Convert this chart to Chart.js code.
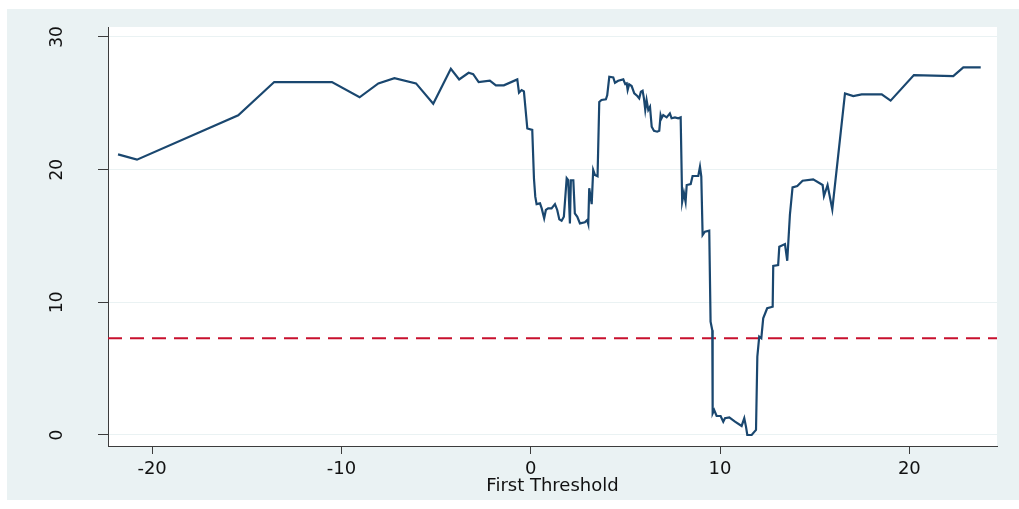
<!DOCTYPE html>
<html>
<head>
<meta charset="utf-8">
<script src="https://cdn.jsdelivr.net/npm/chart.js@4/dist/chart.umd.min.js"></script>
<style>
  html, body { margin: 0; padding: 0; background: #fff; }
  #wrap { width: 1019px; height: 509px; }
</style>
</head>
<body>
<div id="wrap"><canvas id="chart" width="1019" height="509"></canvas></div>
<script>
// estimate vs first threshold
const thresholdX = [
  -21.8, -20.8, -15.45, -13.55, -10.5, -9.04, -8.05, -7.2, -6.06, -5.15,
  -4.22, -3.78, -3.28, -3.04, -2.75, -2.16, -1.84, -1.42, -0.71, -0.62,
  -0.48, -0.36, -0.18, 0.08, 0.17, 0.24, 0.31, 0.49, 0.58, 0.71,
  0.8, 0.92, 1.1, 1.28, 1.4, 1.51, 1.63, 1.75, 1.9, 1.98,
  2.07, 2.12, 2.25, 2.33, 2.46, 2.6, 2.86, 2.98, 3.04, 3.09,
  3.22, 3.3, 3.39, 3.53, 3.62, 3.74, 3.97, 4.04, 4.15, 4.36,
  4.45, 4.62, 4.89, 4.99, 5.07, 5.12, 5.2, 5.33, 5.47, 5.63,
  5.73, 5.82, 5.91, 5.98, 6.05, 6.12, 6.21, 6.3, 6.39, 6.51,
  6.68, 6.79, 6.86, 6.91, 7.0, 7.18, 7.35, 7.44, 7.62, 7.79,
  7.92, 8.0, 8.09, 8.18, 8.24, 8.45, 8.55, 8.85, 8.94, 9.01,
  9.08, 9.2, 9.43, 9.5, 9.59, 9.61, 9.69, 9.82, 10.03, 10.17,
  10.26, 10.49, 10.79, 11.14, 11.28, 11.37, 11.44, 11.67, 11.9, 11.97,
  12.07, 12.18, 12.28, 12.49, 12.78, 12.81, 13.07, 13.13, 13.43, 13.55,
  13.69, 13.83, 14.08, 14.36, 14.92, 15.42, 15.49, 15.68, 15.93, 16.6,
  17.04, 17.48, 18.54, 19.01, 20.24, 22.32, 22.85, 23.77
];
const thresholdY = [
  21.15, 20.75, 24.1, 26.6, 26.6, 25.45, 26.5, 26.9, 26.5, 24.97,
  27.6, 26.8, 27.3, 27.2, 26.6, 26.7, 26.35, 26.35, 26.8, 25.8,
  26.0, 25.9, 23.1, 23.0, 19.35, 17.96, 17.4, 17.46, 17.08, 16.33,
  16.96, 17.08, 17.08, 17.4, 16.96, 16.25, 16.15, 16.45, 19.35, 19.2,
  15.95, 19.2, 19.2, 16.7, 16.45, 15.95, 16.03, 16.2, 15.9, 18.6,
  17.4, 19.97, 19.6, 19.5, 25.1, 25.25, 25.3, 25.6, 27.0, 26.95,
  26.55, 26.7, 26.8, 26.45, 26.5, 26.0, 26.43, 26.3, 25.75, 25.55,
  25.37, 25.87, 25.95, 25.37, 24.5, 25.25, 24.5, 24.74, 23.23, 22.93,
  22.86, 22.93, 24.11, 23.87, 24.11, 23.94, 24.24, 23.87, 23.94, 23.87,
  23.94, 17.58, 18.26, 17.58, 18.84, 18.91, 19.52, 19.52, 20.22, 19.47,
  15.07, 15.32, 15.4, 8.54, 7.9, 1.63, 1.88, 1.43, 1.43, 1.0,
  1.26, 1.33, 1.0, 0.68, 1.26, 0.63, 0.0, 0.0, 0.38, 5.9,
  7.41, 7.29, 8.79, 9.55, 9.67, 12.74, 12.81, 14.19, 14.39, 13.13,
  16.58, 18.66, 18.76, 19.16, 19.27, 18.84, 18.01, 18.84, 17.0, 25.75,
  25.55, 25.67, 25.67, 25.2, 27.13, 27.05, 27.7, 27.7
];
const refLine = 7.3;
const xTicks = [-20, -10, 0, 10, 20];
const yTicks = [0, 10, 20, 30];
const xMin = -22.33, xMax = 24.63;
const yMin = -0.83, yMax = 30.75;

const navy = '#1a476f';
const bluishGray = '#eaf2f3';
const axisColor = '#3c3c3c';

const linePoints = thresholdX.map((x, i) => ({ x: x, y: thresholdY[i] }));

const backdrop = {
    id: 'backdrop',
    beforeDraw(chart) {
        const ctx = chart.ctx;
        const a = chart.chartArea;
        ctx.save();
        ctx.fillStyle = '#ffffff';
        ctx.fillRect(0, 0, chart.width, chart.height);
        ctx.fillStyle = bluishGray;
        ctx.fillRect(7, 9, chart.width - 7, 491);
        ctx.fillStyle = '#ffffff';
        ctx.fillRect(a.left, a.top, a.right - a.left, a.bottom - a.top);
        ctx.restore();
    }
};

new Chart(document.getElementById('chart'), {
    type: 'scatter',
    data: {
        datasets: [
            {
                data: linePoints,
                showLine: true,
                borderColor: navy,
                borderWidth: 2.2,
                pointRadius: 0,
                tension: 0
            },
            {
                data: [{ x: xMin, y: refLine }, { x: xMax, y: refLine }],
                showLine: true,
                borderColor: '#c8102e',
                borderWidth: 2,
                borderDash: [14, 8],
                pointRadius: 0
            }
        ]
    },
    options: {
        responsive: false,
        animation: false,
        layout: { padding: { left: 0, top: 27, right: 22, bottom: 0 } },
        plugins: {
            legend: { display: false },
            tooltip: { enabled: false }
        },
        scales: {
            x: {
                type: 'linear',
                min: xMin,
                max: xMax,
                afterBuildTicks: scale => { scale.ticks = xTicks.map(v => ({ value: v })); },
                afterFit: scale => {
                    scale.height = 63;
                    scale.paddingLeft = 0;
                    scale.paddingRight = 0;
                },
                border: { color: axisColor, width: 1 },
                grid: { drawOnChartArea: false, tickLength: 8, tickColor: axisColor },
                ticks: {
                    padding: 5,
                    color: '#111',
                    font: { family: 'DejaVu Sans', size: 18 },
                    maxRotation: 0
                },
                title: {
                    display: true,
                    text: 'First Threshold',
                    color: '#111',
                    font: { family: 'DejaVu Sans', size: 18 },
                    padding: { top: 0, bottom: 12 }
                }
            },
            y: {
                type: 'linear',
                min: yMin,
                max: yMax,
                afterBuildTicks: scale => { scale.ticks = yTicks.map(v => ({ value: v })); },
                afterFit: scale => {
                    scale.width = 108;
                    scale.paddingTop = 0;
                    scale.paddingBottom = 0;
                },
                border: { color: axisColor, width: 1 },
                grid: { color: bluishGray, lineWidth: 1, tickLength: 10, tickColor: axisColor },
                ticks: {
                    padding: 30,
                    color: '#111',
                    crossAlign: 'center',
                    minRotation: 90,
                    maxRotation: 90,
                    font: { family: 'DejaVu Sans', size: 17 }
                }
            }
        }
    },
    plugins: [backdrop]
});
</script>
</body>
</html>
